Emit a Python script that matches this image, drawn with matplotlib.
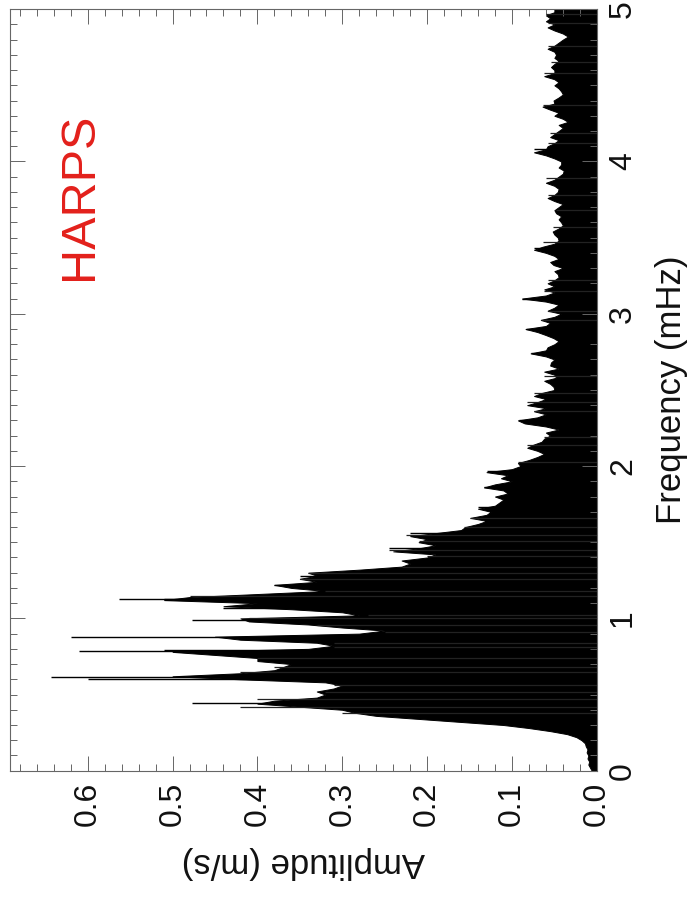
import matplotlib
matplotlib.use("Agg")
import matplotlib.pyplot as plt
import numpy as np
from matplotlib.ticker import MultipleLocator

plt.rcParams['font.family'] = ['Liberation Sans', 'DejaVu Sans']

# amplitude spectrum body, one value every 0.02 mHz from 0 to 5 mHz
freq = np.round(np.arange(0, 5.0001, 0.02), 2)
amp = [
    0.006, 0.008, 0.010, 0.009, 0.011, 0.010, 0.012, 0.011, 0.013, 0.014,
    0.018, 0.024, 0.035, 0.055, 0.080, 0.110, 0.160, 0.210, 0.260, 0.285,
    0.300, 0.350, 0.400, 0.380, 0.330, 0.320, 0.330, 0.310, 0.300, 0.320,
    0.420, 0.500, 0.420, 0.380, 0.370, 0.360, 0.400, 0.400, 0.450, 0.500,
    0.340, 0.310, 0.330, 0.420, 0.450, 0.280, 0.250, 0.300, 0.340, 0.410,
    0.420, 0.280, 0.300, 0.360, 0.440, 0.400, 0.510, 0.480, 0.400, 0.320,
    0.360, 0.380, 0.330, 0.350, 0.330, 0.340, 0.280, 0.230, 0.220, 0.230,
    0.200, 0.190, 0.240, 0.210, 0.190, 0.210, 0.200, 0.220, 0.190, 0.160,
    0.155, 0.140, 0.130, 0.149, 0.130, 0.125, 0.140, 0.120, 0.115, 0.110,
    0.120, 0.105, 0.110, 0.133, 0.120, 0.100, 0.113, 0.105, 0.130, 0.100,
    0.090, 0.093, 0.080, 0.070, 0.062, 0.070, 0.082, 0.075, 0.065, 0.062,
    0.055, 0.060, 0.045, 0.060, 0.085, 0.093, 0.070, 0.060, 0.074, 0.060,
    0.082, 0.070, 0.060, 0.074, 0.065, 0.050, 0.051, 0.055, 0.062, 0.048,
    0.050, 0.062, 0.045, 0.055, 0.054, 0.050, 0.060, 0.078, 0.060, 0.058,
    0.050, 0.045, 0.051, 0.060, 0.070, 0.084, 0.060, 0.055, 0.066, 0.050,
    0.042, 0.058, 0.050, 0.045, 0.060, 0.088, 0.060, 0.050, 0.062, 0.050,
    0.058, 0.050, 0.045, 0.046, 0.050, 0.040, 0.051, 0.055, 0.045, 0.050,
    0.060, 0.074, 0.064, 0.050, 0.045, 0.046, 0.050, 0.052, 0.045, 0.040,
    0.042, 0.045, 0.042, 0.048, 0.050, 0.045, 0.040, 0.050, 0.058, 0.050,
    0.046, 0.045, 0.050, 0.060, 0.050, 0.045, 0.040, 0.039, 0.045, 0.042,
    0.042, 0.050, 0.060, 0.074, 0.060, 0.058, 0.050, 0.045, 0.055, 0.050,
    0.045, 0.040, 0.045, 0.034, 0.040, 0.050, 0.045, 0.055, 0.064, 0.050,
    0.051, 0.045, 0.040, 0.042, 0.045, 0.050, 0.045, 0.050, 0.062, 0.050,
    0.050, 0.054, 0.050, 0.045, 0.050, 0.048, 0.050, 0.058, 0.050, 0.045,
    0.040, 0.034, 0.040, 0.050, 0.058, 0.050, 0.060, 0.055, 0.060, 0.050,
    0.050,
]

# narrow peaks standing out of the body
peak_freq = [0.445, 0.605, 0.615, 0.785, 0.79, 0.875, 0.99, 1.07, 1.125, 1.13,
             1.22, 1.28, 1.46, 1.56, 1.73, 1.86, 1.97, 2.30, 2.74, 2.90, 3.10, 3.43, 4.08]
peak_amp = [0.477, 0.600, 0.643, 0.610, 0.510, 0.620, 0.477, 0.440, 0.563, 0.510,
            0.380, 0.350, 0.245, 0.220, 0.140, 0.133, 0.130, 0.092, 0.078, 0.084, 0.088, 0.074, 0.074]

# smaller streaks inside the envelope
streak_freq = [0.38, 0.42, 0.47, 0.52, 0.56, 0.65, 0.68, 0.74, 0.81, 0.84,
               0.91, 0.955, 1.00, 1.02, 1.15, 1.18, 1.26, 1.30, 1.34, 1.41,
               1.45, 1.51, 1.55, 1.60, 1.66, 2.03, 2.14, 2.19, 2.36, 2.42,
               2.48, 2.59, 2.96, 3.02, 3.15, 3.22, 3.47, 3.57, 3.68, 3.78,
               3.89, 4.12, 4.19, 4.37, 4.58, 4.65, 4.76, 4.91, 4.97]
streak_amp = [0.300, 0.420, 0.400, 0.320, 0.310, 0.420, 0.380, 0.400, 0.310, 0.310,
              0.250, 0.330, 0.410, 0.270, 0.480, 0.320, 0.350, 0.340, 0.230, 0.200,
              0.245, 0.210, 0.225, 0.157, 0.149, 0.093, 0.082, 0.062, 0.074, 0.082,
              0.074, 0.062, 0.066, 0.058, 0.062, 0.058, 0.064, 0.052, 0.048, 0.058,
              0.060, 0.058, 0.055, 0.064, 0.062, 0.054, 0.058, 0.058, 0.060]

fig = plt.figure(figsize=(6.89, 8.97), dpi=100)
ax = fig.add_axes([0.0152, 0.1408, 0.851, 0.849])

ax.fill_betweenx(freq, 0, amp, color='k', lw=0.7)
ax.hlines(streak_freq, 0, streak_amp, color='#222222', lw=0.9)
ax.hlines(peak_freq, 0, peak_amp, color='k', lw=1.0)

ax.set_xlim(0.691, 0)
ax.set_ylim(0, 5)

ax.xaxis.set_major_locator(MultipleLocator(0.1))
ax.xaxis.set_minor_locator(MultipleLocator(0.02))
ax.yaxis.set_major_locator(MultipleLocator(1))
ax.yaxis.set_minor_locator(MultipleLocator(0.1))
ax.xaxis.set_major_formatter(matplotlib.ticker.FormatStrFormatter('%.1f'))

ax.tick_params(which='both', direction='in', top=True, bottom=True, left=True, right=True,
               color='#666666', width=0.7)
ax.tick_params(which='major', length=11)
ax.tick_params(which='minor', length=5)
ax.tick_params(axis='x', labelsize=23, labelrotation=90, pad=8, labelcolor='#111111')
ax.tick_params(axis='y', labelsize=23, labelrotation=90, pad=8, labelcolor='#111111',
               labelleft=False, labelright=True)
for lab in ax.get_yticklabels():
    lab.set_va('center')

for s in ax.spines.values():
    s.set_color('#666666')
    s.set_linewidth(0.8)

ax.set_xlabel('Amplitude (m/s)', fontsize=25, rotation=180, labelpad=14, color='#111111')
ax.yaxis.set_label_position('right')
ax.set_ylabel('Frequency (mHz)', fontsize=25, rotation=90, labelpad=12, color='#111111')

ax.text(0.61, 3.77, 'HARPS', color='#e3201b', fontsize=35, rotation=90,
        ha='center', va='center')

fig.savefig('out.png', dpi=100)
